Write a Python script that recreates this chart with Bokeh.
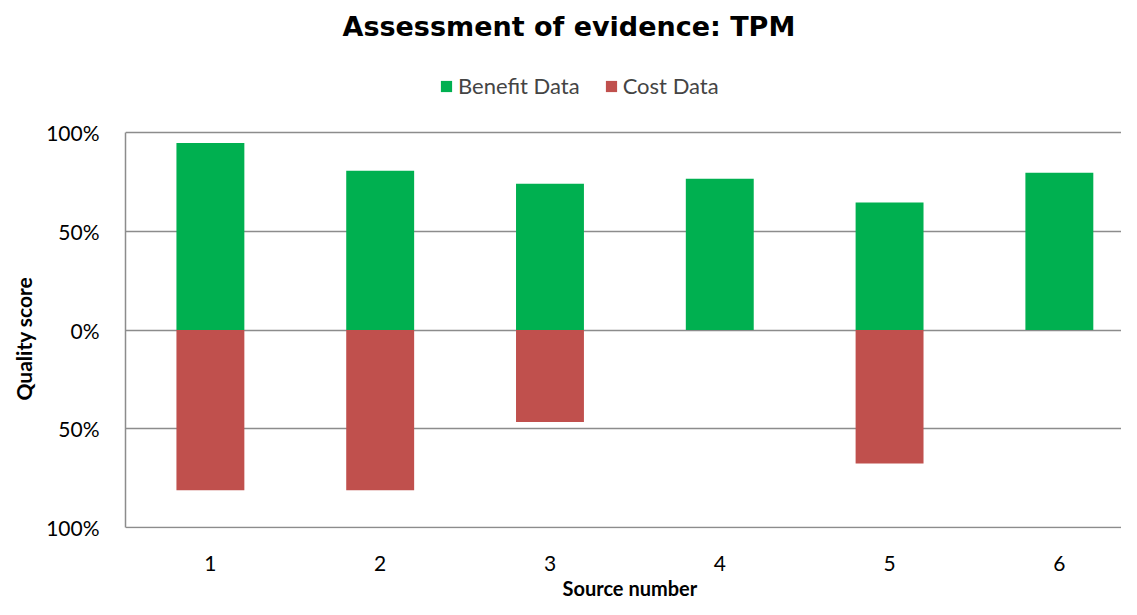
from bokeh.plotting import figure
from bokeh.models import ColumnDataSource, Legend, LegendItem, FixedTicker, CustomJSTickFormatter, Range1d, Title
from bokeh.embed import file_html
from bokeh.resources import INLINE

sources = [1, 2, 3, 4, 5, 6]
benefit = [0.945, 0.805, 0.74, 0.765, 0.645, 0.795]
cost = [0.81, 0.81, 0.465, 0.0, 0.675, 0.0]
y_ticks = [-1.0, -0.5, 0.0, 0.5, 1.0]

FONT = "Lato"
GREEN = "#00B050"
RED = "#C0504D"
GRID = "#8C8C8C"

src = ColumnDataSource(dict(
    x=sources,
    benefit=benefit,
    cost_neg=[-c for c in cost],
    zero=[0.0] * len(sources),
))

# extra head-room above 100% hosts the legend; the right edge is cropped as in the reference
p = figure(width=1121, height=599, output_backend="svg", toolbar_location=None,
           x_range=Range1d(0.5, 6.366), y_range=Range1d(-1.003, 1.413),
           min_border_left=118, min_border_right=0, min_border_top=42, min_border_bottom=71)

main_title = Title(text="Assessment of evidence: TPM", align="left", offset=217, standoff=17,
                   text_font="DejaVu Sans", text_font_size="27px", text_font_style="bold",
                   text_color="#000000")
p.add_layout(main_title, "above")

rb = p.vbar(x="x", top="benefit", bottom="zero", width=0.40, source=src,
            fill_color=GREEN, line_color=None)
rc = p.vbar(x="x", top="zero", bottom="cost_neg", width=0.40, source=src,
            fill_color=RED, line_color=None)

legend = Legend(items=[LegendItem(label="Benefit Data", renderers=[rb]),
                       LegendItem(label="Cost Data", renderers=[rc])],
                orientation="horizontal", location=(314, 429),
                label_text_font=FONT, label_text_font_size="22px",
                glyph_width=14, glyph_height=14, label_standoff=5, spacing=24,
                border_line_color=None, background_fill_alpha=0,
                margin=0, padding=0)
p.add_layout(legend, "center")

p.outline_line_color = None
p.xgrid.grid_line_color = None
p.ygrid.ticker = FixedTicker(ticks=y_ticks)
p.ygrid.grid_line_color = GRID
p.ygrid.grid_line_width = 1.5

p.yaxis.ticker = FixedTicker(ticks=y_ticks)
p.yaxis.bounds = (-1.0, 1.0)
p.yaxis.formatter = CustomJSTickFormatter(code="return Math.round(Math.abs(tick*100)) + '%';")
p.yaxis.axis_line_color = GRID
p.yaxis.axis_line_width = 1.5
p.yaxis.major_tick_line_color = None
p.yaxis.minor_tick_line_color = None
p.yaxis.major_label_standoff = 20
p.yaxis.major_label_text_font = FONT
p.yaxis.major_label_text_font_size = "21px"
p.yaxis.major_label_text_color = "#000000"

p.xaxis.ticker = FixedTicker(ticks=sources)
p.xaxis.axis_line_color = None
p.xaxis.major_tick_line_color = None
p.xaxis.minor_tick_line_color = None
p.xaxis.major_label_standoff = 21
p.xaxis.major_label_text_font = FONT
p.xaxis.major_label_text_font_size = "21px"
p.xaxis.major_label_text_color = "#000000"

xlab = Title(text="Source number", align="left", offset=437, standoff=0,
             text_font=FONT, text_font_size="20px", text_font_style="bold", text_color="#000000")
p.add_layout(xlab, "below")

ylab = Title(text="Quality score", align="left", offset=128, standoff=16,
             text_font=FONT, text_font_size="21px", text_font_style="bold", text_color="#000000")
p.add_layout(ylab, "left")

open("out.html", "w").write(file_html(p, INLINE))
